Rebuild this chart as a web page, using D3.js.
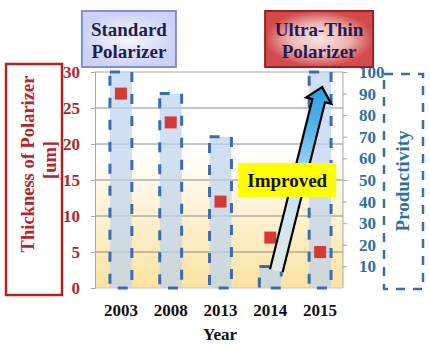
<!DOCTYPE html>
<html><head><meta charset="utf-8">
<script src="https://cdn.jsdelivr.net/npm/d3@7"></script>
<style>html,body{margin:0;padding:0;background:#fff;}svg{display:block;}</style>
</head><body>
<script>
const years = ["2003","2008","2013","2014","2015"];
const productivity = [100, 90, 70, 10, 100];   // bars, right axis
const thickness = [27, 23, 12, 7, 5];          // red squares, left axis (um)
const leftTicks = [0,5,10,15,20,25,30];
const rightTicks = [10,20,30,40,50,60,70,80,90,100];

const W = 430, H = 348;
const serif = "Liberation Serif, Tinos, Times New Roman, DejaVu Serif, serif";
const redC = "#b3262b", blueC = "#2f6fa3";

const svg = d3.select("body").append("svg").attr("width", W).attr("height", H);
const defs = svg.append("defs");

const bg = defs.append("linearGradient").attr("id","bg").attr("x1",0).attr("y1",0).attr("x2",0).attr("y2",1);
bg.append("stop").attr("offset","0%").attr("stop-color","#ffffff");
bg.append("stop").attr("offset","35%").attr("stop-color","#ffffff");
bg.append("stop").attr("offset","100%").attr("stop-color","#fae2a0");

const gStd = defs.append("radialGradient").attr("id","gStd");
gStd.append("stop").attr("offset","0%").attr("stop-color","#f6f7fe");
gStd.append("stop").attr("offset","100%").attr("stop-color","#cdd2f5");
const gUT = defs.append("radialGradient").attr("id","gUT");
gUT.append("stop").attr("offset","0%").attr("stop-color","#f8e2e2");
gUT.append("stop").attr("offset","55%").attr("stop-color","#eeb4b4");
gUT.append("stop").attr("offset","100%").attr("stop-color","#d24a4a");

const x = d3.scaleBand().domain(years).range([96, 345]).paddingInner(0.56).paddingOuter(0.28);
const yL = d3.scaleLinear().domain([0,30]).range([288,72]);
const yR = d3.scaleLinear().domain([0,100]).range([288,72]);
const px0 = 95, px1 = 343;
const cx = d => x(d) + x.bandwidth()/2;

svg.append("rect").attr("x",px0).attr("y",yL(30)).attr("width",px1-px0).attr("height",yL(0)-yL(30)).attr("fill","url(#bg)");

svg.append("g").selectAll("line").data(leftTicks.filter(t=>t>0 && t<30)).join("line")
  .attr("x1",px0).attr("x2",px1).attr("y1",d=>yL(d)).attr("y2",d=>yL(d))
  .attr("stroke","#8a8a8a").attr("stroke-width",1);
svg.append("path").attr("d",`M${px0},${yL(30)}H${px1}V${yL(0)}`).attr("fill","none").attr("stroke","#a8a8a8");
svg.append("line").attr("x1",px0).attr("x2",px1).attr("y1",yL(0)).attr("y2",yL(0)).attr("stroke","#c8c8c8");

svg.append("g").selectAll("rect").data(years).join("rect")
  .attr("x",d=>x(d)).attr("width",x.bandwidth())
  .attr("y",(d,i)=>yR(productivity[i])).attr("height",(d,i)=>yR(0)-yR(productivity[i]))
  .attr("fill","#bcd3ef").attr("fill-opacity",0.7)
  .attr("stroke","#3d6cae").attr("stroke-width",3).attr("stroke-dasharray","10,12");

svg.append("g").selectAll("rect").data(years).join("rect")
  .attr("x",d=>cx(d)-6).attr("y",(d,i)=>yL(thickness[i])-6).attr("width",12).attr("height",12)
  .attr("fill","#d63a37");

const axL = svg.append("g").attr("transform",`translate(${px0},0)`)
  .call(d3.axisLeft(yL).tickValues(leftTicks).tickSize(4).tickPadding(11));
axL.select(".domain").attr("stroke","#a8a8a8");
axL.selectAll(".tick line").attr("stroke","#a8a8a8");
axL.selectAll("text").attr("font-family",serif).attr("font-weight","bold").attr("font-size",17).attr("fill",redC);

const axR = svg.append("g").attr("transform",`translate(${px1},0)`)
  .call(d3.axisRight(yR).tickValues(rightTicks).tickSize(4).tickPadding(12));
axR.select(".domain").remove();
axR.selectAll(".tick line").attr("stroke","#a8a8a8");
axR.selectAll("text").attr("font-family",serif).attr("font-weight","bold").attr("font-size",17).attr("fill",blueC);

svg.append("g").selectAll("text").data(years).join("text")
  .attr("x",d=>cx(d)).attr("y",316).attr("text-anchor","middle")
  .attr("font-family",serif).attr("font-weight","bold").attr("font-size",17).attr("fill","#111")
  .text(d=>d);
svg.append("text").attr("x",220).attr("y",340).attr("text-anchor","middle")
  .attr("font-family",serif).attr("font-weight","bold").attr("font-size",17).attr("fill","#111").text("Year");

svg.append("rect").attr("x",6).attr("y",64).attr("width",56).attr("height",231)
  .attr("fill","#fff").attr("stroke","#b22222").attr("stroke-width",2.5);
svg.append("text").attr("transform","translate(28,164) rotate(-90)").attr("text-anchor","middle").attr("dominant-baseline","central")
  .attr("font-family",serif).attr("font-weight","bold").attr("font-size",18.5).attr("fill",redC).text("Thickness of Polarizer");
svg.append("text").attr("transform","translate(50,160) rotate(-90)").attr("text-anchor","middle").attr("dominant-baseline","central")
  .attr("font-family",serif).attr("font-weight","bold").attr("font-size",18.5).attr("fill",redC).text("[um]");

svg.append("rect").attr("x",384).attr("y",74).attr("width",39).attr("height",215)
  .attr("fill","none").attr("stroke","#3d6cae").attr("stroke-width",2.5).attr("stroke-dasharray","9,8");
svg.append("text").attr("transform","translate(402,181) rotate(-90)").attr("text-anchor","middle").attr("dominant-baseline","central")
  .attr("font-family",serif).attr("font-weight","bold").attr("font-size",19).attr("fill",blueC).text("Productivity");

const B = [cx("2014")+6, yR(8)], T = [cx("2015")+2, yR(93)];
const dx = T[0]-B[0], dy = T[1]-B[1], L = Math.hypot(dx,dy);
const u = [dx/L, dy/L], n = [-u[1], u[0]];
const sw = 6.5, hw = 13, hl = 14;
const Hh = [T[0]-u[0]*hl, T[1]-u[1]*hl];
const P = (p,k,s)=>[p[0]+n[0]*k*s, p[1]+n[1]*k*s];
const pts = [P(B,-1,sw), P(Hh,-1,sw), P(Hh,-1,hw), T, P(Hh,1,hw), P(Hh,1,sw), P(B,1,sw)];
const ag = defs.append("linearGradient").attr("id","ag").attr("gradientUnits","userSpaceOnUse")
  .attr("x1",B[0]).attr("y1",B[1]).attr("x2",T[0]).attr("y2",T[1]);
ag.append("stop").attr("offset","0%").attr("stop-color","#e4e8ea");
ag.append("stop").attr("offset","45%").attr("stop-color","#c4e2f5");
ag.append("stop").attr("offset","75%").attr("stop-color","#5cb8ec");
ag.append("stop").attr("offset","100%").attr("stop-color","#2a9fe2");
svg.append("path").attr("d","M"+pts.map(p=>p.join(",")).join("L")+"Z").attr("fill","url(#ag)");
svg.append("path").attr("d","M"+pts.map(p=>p.join(",")).join("L")).attr("fill","none").attr("stroke","#000").attr("stroke-width",2.2).attr("stroke-linejoin","miter");

const impX = (cx("2014")+cx("2015"))/2 - 8, impY = yR(50);
svg.append("rect").attr("x",impX-49).attr("y",impY-17).attr("width",98).attr("height",34).attr("fill","#ffff00");
svg.append("text").attr("x",impX).attr("y",impY).attr("text-anchor","middle").attr("dominant-baseline","central")
  .attr("font-family",serif).attr("font-weight","bold").attr("font-size",19).attr("fill","#111").text("Improved");

function titleBox(cxp, w, lines, fill, stroke){
  svg.append("rect").attr("x",cxp-w/2).attr("y",11).attr("width",w).attr("height",56)
    .attr("fill",fill).attr("stroke",stroke).attr("stroke-width",2);
  svg.append("g").selectAll("text").data(lines).join("text")
    .attr("x",cxp).attr("y",(d,i)=>29+i*22).attr("text-anchor","middle").attr("dominant-baseline","central")
    .attr("font-family",serif).attr("font-weight","bold").attr("font-size",19).attr("fill","#1f1d4f").text(d=>d);
}
titleBox(cx("2003")+8, 94, ["Standard","Polarizer"], "url(#gStd)", "#8090d6");
titleBox(cx("2015")-1, 108, ["Ultra-Thin","Polarizer"], "url(#gUT)", "#9e1f1f");
</script>
</body></html>
